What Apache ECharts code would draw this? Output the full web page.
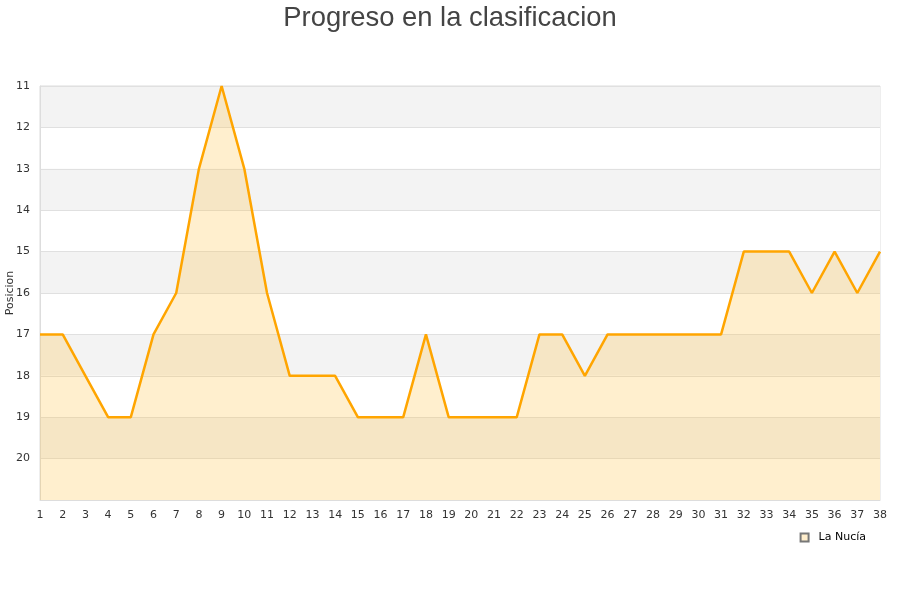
<!DOCTYPE html>
<html><head><meta charset="utf-8">
<script src="https://cdn.jsdelivr.net/npm/echarts@6/dist/echarts.min.js"></script>
<style>html,body{margin:0;padding:0;background:#fff}#c{width:900px;height:600px}</style>
</head><body><div id="c"></div>
<script>
var jornadas = ['1','2','3','4','5','6','7','8','9','10','11','12','13','14','15','16','17','18','19','20','21','22','23','24','25','26','27','28','29','30','31','32','33','34','35','36','37','38'];
var posiciones = [17,17,18,19,19,17,16,13,11,13,16,18,18,18,19,19,19,17,19,19,19,19,17,17,18,17,17,17,17,17,17,15,15,15,16,15,16,15];
var seriesName = 'La Nucía';
var chart = echarts.init(document.getElementById('c'));
chart.setOption({
  animation: false,
  title: { text: 'Progreso en la clasificacion', left: 'center', top: 0,
    textStyle: { fontFamily: 'Liberation Sans', fontSize: 27.4, fontWeight: 'normal', color: '#444' } },
  grid: { left: 40, right: 20, top: 86, bottom: 100, containLabel: false, outerBoundsMode: 'none',
    show: true, borderColor: '#ddd', borderWidth: 1, backgroundColor: 'transparent' },
  legend: { data: [seriesName], right: 29, bottom: 52, icon: 'rect', itemWidth: 8, itemHeight: 8,
    textStyle: { fontFamily: 'DejaVu Sans', fontSize: 11, color: '#000', padding: [0, 0, 0, 5] } },
  xAxis: { type: 'category', data: jornadas, boundaryGap: false,
    axisLine: { lineStyle: { color: '#ddd' } }, axisTick: { show: false },
    axisLabel: { color: '#333', fontFamily: 'DejaVu Sans', fontSize: 11, margin: 10, interval: 0 },
    splitLine: { show: false } },
  yAxis: { type: 'value', inverse: true, min: 11, max: 21, interval: 1, name: 'Posicion',
    nameLocation: 'middle', nameGap: 24, nameMoveOverlap: false,
    nameTextStyle: { fontFamily: 'DejaVu Sans', fontSize: 11, color: '#333' },
    axisLine: { show: true, lineStyle: { color: '#ddd' } }, axisTick: { show: false },
    axisLabel: { color: '#333', fontFamily: 'DejaVu Sans', fontSize: 11, margin: 10,
      formatter: function(v){ return v === 21 ? '' : v; } },
    splitLine: { show: true, lineStyle: { color: '#e0e0e0' } },
    splitArea: { show: true, areaStyle: { color: ['#f3f3f3', '#ffffff'] } } },
  series: [{ name: seriesName, type: 'line', data: posiciones, symbol: 'none',
    lineStyle: { color: '#ffa500', width: 2.5 },
    itemStyle: { color: '#ffeecc', borderColor: '#777', borderWidth: 1 },
    areaStyle: { color: 'rgba(255,190,60,0.25)', opacity: 1, origin: 'end' } }]
});
</script></body></html>
